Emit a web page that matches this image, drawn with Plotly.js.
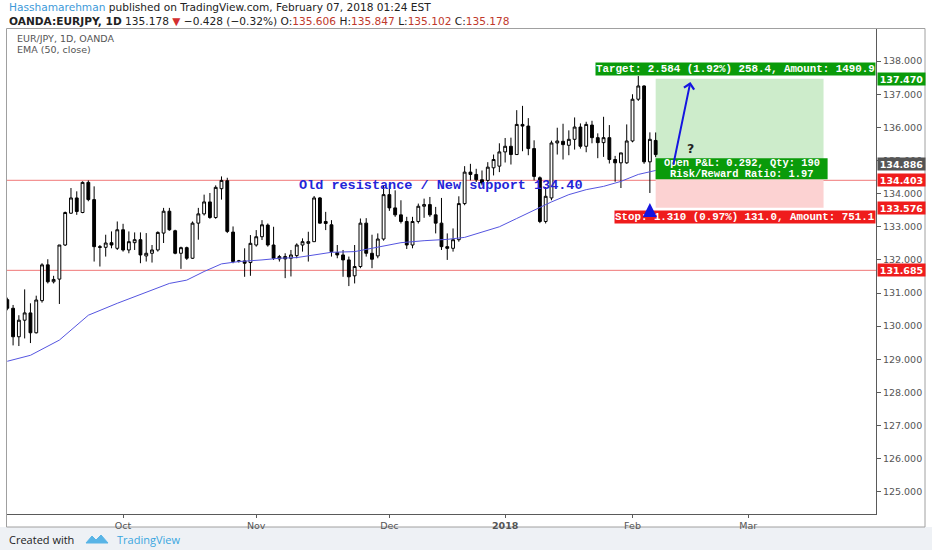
<!DOCTYPE html>
<html><head><meta charset="utf-8">
<script src="https://cdn.plot.ly/plotly-3.0.1.min.js"></script>
<style>html,body{margin:0;padding:0;background:#fff;}#chart{width:932px;height:550px;}</style>
</head><body><div id="chart"></div>
<script>
// ---------- data ----------
const dates = [
 '2017-09-04','2017-09-05','2017-09-06','2017-09-07','2017-09-08','2017-09-11','2017-09-12','2017-09-13','2017-09-14','2017-09-15',
 '2017-09-18','2017-09-19','2017-09-20','2017-09-21','2017-09-22','2017-09-25','2017-09-26','2017-09-27','2017-09-28','2017-09-29',
 '2017-10-02','2017-10-03','2017-10-04','2017-10-05','2017-10-06','2017-10-09','2017-10-10','2017-10-11','2017-10-12','2017-10-13',
 '2017-10-16','2017-10-17','2017-10-18','2017-10-19','2017-10-20','2017-10-23','2017-10-24','2017-10-25','2017-10-26','2017-10-27',
 '2017-10-29','2017-10-30','2017-10-31',
 '2017-11-01','2017-11-02','2017-11-03','2017-11-05','2017-11-06','2017-11-07','2017-11-08','2017-11-09','2017-11-10',
 '2017-11-13','2017-11-14','2017-11-15','2017-11-16','2017-11-17','2017-11-20','2017-11-21','2017-11-22','2017-11-23','2017-11-24',
 '2017-11-27','2017-11-28','2017-11-29','2017-11-30',
 '2017-12-01','2017-12-04','2017-12-05','2017-12-06','2017-12-07','2017-12-08','2017-12-11','2017-12-12','2017-12-13','2017-12-14',
 '2017-12-15','2017-12-18','2017-12-19','2017-12-20','2017-12-21','2017-12-22','2017-12-26','2017-12-27','2017-12-28','2017-12-29',
 '2018-01-02','2018-01-03','2018-01-04','2018-01-05','2018-01-08','2018-01-09','2018-01-10','2018-01-11','2018-01-12','2018-01-15',
 '2018-01-16','2018-01-17','2018-01-18','2018-01-19','2018-01-22','2018-01-23','2018-01-24','2018-01-25','2018-01-26','2018-01-29',
 '2018-01-30','2018-01-31',
 '2018-02-01','2018-02-02','2018-02-05','2018-02-06','2018-02-07'
];
const openP = [
 130.80,130.54,129.68,130.18,130.40,129.80,130.77,131.85,131.34,131.42,
 132.45,133.41,133.87,133.43,134.34,133.82,132.40,132.38,132.52,132.35,
 132.91,132.30,132.52,132.61,132.12,132.20,132.30,132.81,133.47,132.88,
 132.20,132.37,132.05,133.11,133.39,133.75,133.28,134.15,134.39,132.84,
 131.95,131.97,131.92,
 132.45,132.70,133.05,132.45,132.03,132.10,132.05,132.13,132.45,
 132.50,132.55,133.87,133.16,133.06,132.22,132.15,132.00,131.52,131.80,
 133.11,132.20,132.12,132.63,
 133.97,133.57,133.36,133.16,132.45,133.16,133.62,133.67,133.36,133.11,
 132.40,132.35,132.61,133.70,134.65,134.58,134.42,134.40,134.78,134.83,
 135.26,135.43,135.18,136.09,136.04,135.36,134.48,133.16,133.87,135.53,
 135.58,135.46,135.64,136.01,135.43,136.07,135.69,135.54,135.69,135.03,
 134.93,134.93,
 135.59,136.85,137.25,134.96,135.606
];
const highP = [
 130.86,130.64,130.33,131.11,130.69,130.92,131.90,132.02,131.52,132.45,
 133.46,134.17,134.07,134.37,134.40,134.22,132.45,132.76,132.86,133.16,
 133.09,132.86,132.83,132.83,132.81,132.45,132.86,133.57,133.57,132.91,
 132.40,132.40,133.16,133.57,133.97,134.02,134.25,134.52,134.48,133.01,
 132.00,132.35,132.75,
 132.90,133.20,133.10,133.00,132.15,132.20,132.30,132.50,132.65,
 132.85,133.93,133.90,133.45,133.20,132.45,132.30,132.10,132.45,133.25,
 133.26,132.76,132.80,134.24,
 134.30,134.10,133.80,133.30,133.30,133.70,133.85,133.90,133.60,133.87,
 132.80,132.95,133.92,134.83,134.90,134.75,134.70,134.95,135.18,135.52,
 135.68,135.69,136.52,136.65,136.28,135.61,134.52,134.20,135.60,135.99,
 136.11,135.91,136.30,136.12,136.17,136.20,135.82,136.32,136.07,135.14,
 135.23,136.09,
 137.00,137.55,137.27,135.85,135.847
];
const lowP = [
 130.48,129.42,129.40,129.63,129.49,129.78,130.71,131.29,131.29,130.67,
 132.42,133.39,133.36,133.41,133.77,131.95,131.80,132.10,132.35,132.30,
 132.25,132.20,132.30,131.90,131.95,131.92,132.25,132.51,132.88,132.17,
 131.73,132.00,132.03,132.61,133.34,133.24,133.24,133.82,132.81,131.90,
 131.92,131.49,131.52,
 132.40,132.60,132.40,132.00,131.95,131.45,131.50,132.05,132.25,
 131.95,132.55,133.10,132.90,132.10,132.05,131.49,131.21,131.29,131.75,
 132.10,131.75,132.05,132.58,
 133.48,133.30,133.10,132.33,132.35,133.10,133.27,133.30,132.80,132.30,
 132.00,132.25,132.55,133.65,134.40,134.35,134.25,134.30,134.55,134.65,
 134.94,134.88,135.18,135.28,135.16,134.40,133.11,133.10,133.80,135.18,
 135.03,135.16,135.33,135.36,135.25,135.52,135.07,135.11,134.91,134.36,
 134.17,134.90,
 135.55,136.80,134.90,134.02,135.102
];
const closeP = [
 130.54,129.68,130.18,130.40,129.80,130.79,131.85,131.34,131.41,132.45,
 133.43,133.87,133.46,134.34,133.82,132.40,132.38,132.51,132.45,132.91,
 132.30,132.55,132.61,132.15,132.20,132.30,132.83,133.47,132.91,132.20,
 132.37,132.05,133.11,133.39,133.75,133.28,134.19,134.40,132.86,131.95,
 131.97,131.90,132.50,
 132.70,133.06,132.45,132.05,132.10,132.03,132.15,132.45,132.55,
 132.55,133.87,133.11,133.10,132.25,132.15,132.00,131.49,131.80,133.11,
 132.20,132.02,132.63,133.97,
 133.57,133.36,133.16,132.45,133.16,133.62,133.67,133.36,133.11,132.40,
 132.35,132.61,133.70,134.65,134.58,134.42,134.32,134.80,135.03,135.26,
 135.43,135.18,136.09,136.04,135.36,134.52,133.16,133.92,135.53,135.59,
 135.48,135.64,136.01,135.43,136.09,135.69,135.54,135.69,135.03,134.93,
 135.23,135.59,
 136.85,137.25,134.96,135.64,135.178
];
// EMA(50, close) at selected bars
const emaDates = ['2017-09-04','2017-09-08','2017-09-15','2017-09-22','2017-09-29','2017-10-06','2017-10-12','2017-10-17',
 '2017-10-20','2017-10-25','2017-10-29','2017-11-02','2017-11-06','2017-11-09','2017-11-14','2017-11-17','2017-11-23',
 '2017-11-29','2017-12-05','2017-12-11','2017-12-15','2017-12-20','2017-12-26','2017-12-29','2018-01-04','2018-01-09',
 '2018-01-12','2018-01-17','2018-01-22','2018-01-25','2018-01-30','2018-02-02','2018-02-07'];
const emaValues = [128.94,129.12,129.58,130.33,130.69,131.01,131.29,131.39,
 131.65,131.88,131.95,132.00,132.05,132.07,132.15,132.23,132.25,
 132.38,132.52,132.58,132.62,132.68,132.85,133.00,133.25,133.50,
 133.75,133.97,134.12,134.22,134.37,134.58,134.70];

const supportLevels = [134.403, 131.685];
const entryPrice = 134.886, targetPrice = 137.470, stopPrice = 133.576;
const positionStart = '2018-02-07', positionEnd = '2018-03-20';
const targetText = 'Target: 2.584 (1.92%) 258.4, Amount: 1490.9';
const stopText = 'Stop: 1.310 (0.97%) 131.0, Amount: 751.1';
const pnlLines = ['Open P&amp;L: 0.292, Qty: 190', 'Risk/Reward Ratio: 1.97'];
const noteText = 'Old resistance / New support 134.40';
const noteDate = '2017-12-14', notePrice = 134.24;
const arrowTail = {date:'2018-02-12', price:134.83};
const arrowHead = {date:'2018-02-15', price:137.37};
const markDate = '2018-02-06', markFrom = 133.42, markTo = 133.72;
const questionDate = '2018-02-15', questionPrice = 135.36;

const monthTickDates = ['2017-10-02','2017-11-01','2017-12-01','2018-01-02','2018-02-01','2018-03-01'];
const monthTickLabels = ['Oct','Nov','Dec','<b>2018</b>','Feb','Mar'];
const priceTicks = [125,126,127,128,129,130,131,132,133,134,135,136,137,138];

// ---------- helpers ----------
function dateIndex(d){
  const i = dates.indexOf(d);
  if (i >= 0) return i;
  let cur = new Date(dates[dates.length-1]+'T00:00:00Z');
  const target = new Date(d+'T00:00:00Z');
  let n = dates.length-1;
  while (cur < target){ cur.setUTCDate(cur.getUTCDate()+1); const wd = cur.getUTCDay(); if (wd!==0 && wd!==6) n++; }
  return n;
}
const W=932,H=550, L=7, R=56, T=29, B=36;
const PW=W-L-R, PH=H-T-B;
const px = x => (x-L)/PW;          // pixel -> paper x
const py = y => (H-B-y)/PH;        // pixel -> paper y

const xIdx = dates.map(d=>dateIndex(d));

const traces = [
 {type:'candlestick', x:xIdx, open:openP, high:highP, low:lowP, close:closeP,
  increasing:{line:{color:'#000',width:1}, fillcolor:'#ffffff'},
  decreasing:{line:{color:'#000',width:1}, fillcolor:'#000000'},
  whiskerwidth:0, hoverinfo:'skip', showlegend:false},
 {type:'scatter', mode:'lines', x:emaDates.map(dateIndex), y:emaValues,
  line:{color:'#5555e0', width:1}, hoverinfo:'skip', showlegend:false}
];

const x0 = dateIndex(positionStart), x1 = dateIndex(positionEnd);
const xc = (x0+x1)/2;
const shapes = [
 {type:'rect', xref:'paper', yref:'paper', x0:px(0), x1:px(W), y0:py(527), y1:py(H), fillcolor:'#eef1f5', line:{width:0}, layer:'below'},
 {type:'rect', xref:'paper', yref:'paper', x0:px(6.5), x1:px(925), y0:py(527), y1:py(28.5), fillcolor:'rgba(0,0,0,0)', line:{color:'#a0a0a0', width:1}, layer:'below'},
 {type:'rect', xref:'x', yref:'y', x0:x0, x1:x1, y0:entryPrice, y1:targetPrice, fillcolor:'#cdeccb', line:{width:0}, layer:'below'},
 {type:'rect', xref:'x', yref:'y', x0:x0, x1:x1, y0:stopPrice, y1:entryPrice, fillcolor:'#fcd2d2', line:{width:0}, layer:'below'}
];
supportLevels.forEach(v=>shapes.push({type:'line', xref:'paper', yref:'y', x0:0, x1:1, y0:v, y1:v, line:{color:'#f07878', width:1}, layer:'below'}));
// P&L label box (pixel-sized, anchored on the entry price)
shapes.push({type:'rect', xref:'x', yref:'y', xsizemode:'pixel', ysizemode:'pixel', xanchor:xc, yanchor:entryPrice,
  x0:-84, x1:88, y0:-15, y1:6, fillcolor:'#0a9b0a', line:{width:0}, layer:'above'});

const monoBold = 'Liberation Mono';
const annotations = [
 {xref:'paper', yref:'paper', x:px(7), y:py(7.5), xanchor:'left', yanchor:'middle', showarrow:false,
  text:'<span style="color:#3d9ad9">Hasshamarehman</span> published on TradingView.com, February 07, 2018 01:24 EST',
  font:{family:'DejaVu Sans', size:10.6, color:'#222'}},
 {xref:'paper', yref:'paper', x:px(7), y:py(20.5), xanchor:'left', yanchor:'middle', showarrow:false,
  text:'<b>OANDA:EURJPY, 1D</b> 135.178 <span style="color:#d32f2f">▼</span> −0.428 (−0.32%) O:<span style="color:#c0392b">135.606</span> H:<span style="color:#c0392b">135.847</span> L:<span style="color:#c0392b">135.102</span> C:<span style="color:#c0392b">135.178</span>',
  font:{family:'DejaVu Sans', size:10.6, color:'#222'}},
 {xref:'paper', yref:'paper', x:px(15), y:py(38), xanchor:'left', yanchor:'middle', showarrow:false,
  text:'EUR/JPY, 1D, OANDA', font:{family:'DejaVu Sans', size:9.5, color:'#555'}},
 {xref:'paper', yref:'paper', x:px(15), y:py(49.5), xanchor:'left', yanchor:'middle', showarrow:false,
  text:'EMA (50, close)', font:{family:'DejaVu Sans', size:9.5, color:'#555'}},
 {xref:'x', yref:'y', x:dateIndex(noteDate), y:notePrice, showarrow:false, text:'<b>'+noteText+'</b>',
  font:{family:monoBold, size:13.5, color:'#2424d8'}},
 {xref:'paper', yref:'y', x:1, y:targetPrice, xanchor:'right', yanchor:'bottom', yshift:3, showarrow:false,
  text:'<b>'+targetText+'</b>', font:{family:monoBold, size:10.8, color:'#fff'}, bgcolor:'#0a9b0a', borderpad:0},
 {xref:'paper', yref:'y', x:1, y:stopPrice, xanchor:'right', yanchor:'top', yshift:-2, showarrow:false,
  text:'<b>'+stopText+'</b>', font:{family:monoBold, size:10.8, color:'#fff'}, bgcolor:'#ef1c1c', borderpad:0},
 {xref:'x', yref:'y', x:xc, y:entryPrice, yanchor:'middle', xshift:2, yshift:1.5, showarrow:false,
  text:'<b>'+pnlLines[0]+'</b>', font:{family:monoBold, size:10.4, color:'#fff'}},
 {xref:'x', yref:'y', x:xc, y:entryPrice, yanchor:'middle', xshift:2, yshift:-9.5, showarrow:false,
  text:'<b>'+pnlLines[1]+'</b>', font:{family:monoBold, size:10.4, color:'#fff'}},
 {xref:'x', yref:'y', axref:'x', ayref:'y', x:dateIndex(arrowHead.date), y:arrowHead.price,
  ax:dateIndex(arrowTail.date), ay:arrowTail.price, showarrow:true, text:'', arrowhead:4, arrowsize:1, arrowwidth:2, arrowcolor:'#1515e0'},
 {xref:'x', yref:'y', x:dateIndex(questionDate), y:questionPrice, showarrow:false, text:'<b>?</b>',
  font:{family:'DejaVu Sans', size:12.5, color:'#222'}},
 {xref:'x', yref:'y', axref:'x', ayref:'y', x:dateIndex(markDate), y:markTo, ax:dateIndex(markDate), ay:markFrom,
  showarrow:true, text:'', arrowhead:2, arrowsize:1.4, arrowwidth:2, arrowcolor:'#1515e0'},
 {xref:'paper', yref:'paper', x:px(7), y:py(539), xanchor:'left', yanchor:'middle', showarrow:false,
  text:'Created with', font:{family:'Open Sans', size:11, color:'#222'}},
 {xref:'paper', yref:'paper', x:px(115), y:py(539), xanchor:'left', yanchor:'middle', showarrow:false,
  text:'TradingView', font:{family:'Open Sans', size:11, color:'#3aa6df'}}
];
const axisLabels = [
 {p:targetPrice, c:'#0a9b0a'}, {p:entryPrice, c:'#555555'}, {p:supportLevels[0], c:'#ef1c1c'},
 {p:stopPrice, c:'#ef1c1c'}, {p:supportLevels[1], c:'#ef1c1c'}
];
axisLabels.forEach(a=>annotations.push({xref:'paper', yref:'y', x:1, y:a.p, xanchor:'left', yanchor:'middle', xshift:1,
  showarrow:false, text:'<b>'+a.p.toFixed(3)+'</b>', font:{family:'DejaVu Sans', size:9.5, color:'#fff'},
  bgcolor:a.c, width:47, height:12, borderpad:0, align:'center'}));

shapes.push({type:'path', xref:'paper', yref:'paper',
  path:`M ${px(86)} ${py(543)} L ${px(92)} ${py(536)} L ${px(96)} ${py(540)} L ${px(101)} ${py(535)} L ${px(108)} ${py(543)} Z`,
  fillcolor:'#58b4e6', line:{color:'#58b4e6', width:1}});

const layout = {
  width:W, height:H, margin:{l:L, r:R, t:T, b:B, pad:0},
  paper_bgcolor:'#ffffff', plot_bgcolor:'#ffffff', showlegend:false, dragmode:false,
  xaxis:{range:[-0.05,150.06], tickmode:'array', tickvals:monthTickDates.map(dateIndex), ticktext:monthTickLabels,
    showgrid:false, zeroline:false, showline:true, linecolor:'#5a5a5a', linewidth:1, ticks:'outside', ticklen:3,
    tickcolor:'#5a5a5a', tickfont:{family:'DejaVu Sans', size:9.5, color:'#555'}, rangeslider:{visible:false}, fixedrange:true},
  yaxis:{side:'right', range:[124.33,138.97], tickmode:'array', tickvals:priceTicks, tickformat:'.3f',
    showgrid:false, zeroline:false, showline:true, linecolor:'#5a5a5a', linewidth:1, ticks:'outside', ticklen:4,
    tickcolor:'#5a5a5a', tickfont:{family:'DejaVu Sans', size:9.5, color:'#555'}, fixedrange:true},
  shapes:shapes, annotations:annotations
};
Plotly.newPlot('chart', traces, layout, {displayModeBar:false, staticPlot:true});
</script></body></html>
